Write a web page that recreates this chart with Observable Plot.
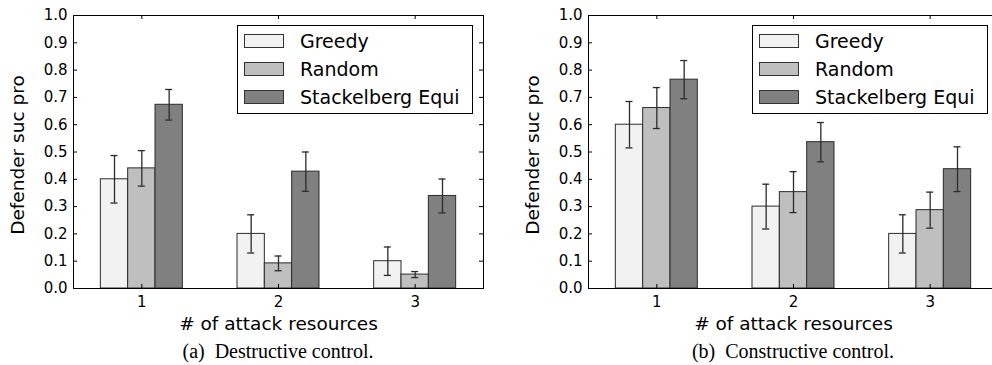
<!DOCTYPE html>
<html>
<head>
<meta charset="utf-8">
<script src="https://cdn.jsdelivr.net/npm/d3@7"></script>
<script src="https://cdn.jsdelivr.net/npm/@observablehq/plot@0.6"></script>
<style>
  html, body { margin: 0; padding: 0; background: #fff; }
  body { width: 992px; height: 365px; overflow: hidden; position: relative; font-family: "DejaVu Sans", sans-serif; }
  .panel { position: absolute; top: 0; width: 496px; height: 365px; }
  .panel svg { display: block; position: absolute; left: 0; top: 0; }
  .caption { position: absolute; left: 73px; width: 410px; top: 339px; text-align: center;
             font: 20px/24px "Liberation Serif", "Times New Roman", serif; color: #000; white-space: nowrap; }
  .legend { position: absolute; left: 237px; top: 25px; width: 236px; height: 89px; box-sizing: border-box;
            border: 1px solid #000; background: #fff; }
  .legend .sw { position: absolute; left: 6px; width: 40px; height: 14px; box-sizing: border-box; border: 1px solid #333; }
  .legend .lb { position: absolute; left: 62px; font: 19px/22px "DejaVu Sans", sans-serif; color: #000; white-space: nowrap; }
</style>
</head>
<body>
<script>
// ---- data ----
const categories = [1, 2, 3];
const series = ["Greedy", "Random", "Stackelberg Equi"];
const seriesColors = ["#f2f2f2", "#bfbfbf", "#808080"];
const yTicks = [0, 0.1, 0.2, 0.3, 0.4, 0.5, 0.6, 0.7, 0.8, 0.9, 1.0];
const xLabel = "# of attack resources";
const yLabel = "Defender suc pro";

// (a) Destructive control
const greedyA = [0.40, 0.20, 0.10];
const randomA = [0.44, 0.092, 0.051];
const stackA  = [0.673, 0.428, 0.339];
const greedyErrA = [0.087, 0.070, 0.052];
const randomErrA = [0.065, 0.027, 0.011];
const stackErrA  = [0.056, 0.072, 0.062];

// (b) Constructive control
const greedyB = [0.60, 0.30, 0.20];
const randomB = [0.661, 0.353, 0.287];
const stackB  = [0.765, 0.536, 0.437];
const greedyErrB = [0.085, 0.082, 0.070];
const randomErrB = [0.075, 0.075, 0.066];
const stackErrB  = [0.070, 0.072, 0.082];

const captionA = ["(a)", "Destructive control."];
const captionB = ["(b)", "Constructive control."];

// ---- drawing ----
const W = 496, H = 340, mL = 73, mR = 13, mT = 15, mB = 52;
const fw = W - mL - mR, fh = H - mT - mB;
const offsets = [-0.2, 0, 0.2];
const barW = 0.2;
const capHalf = 3.5 / (fw / 3); // 3.5px in data units

function makePanel(values, errs, left, caption) {
  const rows = [];
  categories.forEach((c, ci) => series.forEach((s, si) => {
    rows.push({c, s, x: c + offsets[si], v: values[si][ci], e: errs[si][ci]});
  }));
  const chart = Plot.plot({
    width: W, height: H, marginLeft: mL, marginRight: mR, marginTop: mT, marginBottom: mB,
    style: {fontFamily: "DejaVu Sans, sans-serif", fontSize: "15px", color: "#000", background: "#fff", overflow: "visible"},
    x: {domain: [0.5, 3.5], axis: null},
    y: {domain: [0, 1], axis: null},
    color: {domain: series, range: seriesColors},
    marks: [
      Plot.rect(rows, {x1: d => d.x - barW / 2, x2: d => d.x + barW / 2, y1: 0, y2: "v", fill: "s", stroke: "#2b2b2b", strokeWidth: 1}),
      Plot.ruleX(rows, {x: "x", y1: d => d.v - d.e, y2: d => d.v + d.e, stroke: "#2b2b2b", strokeWidth: 1.3}),
      Plot.ruleY(rows, {y: d => d.v - d.e, x1: d => d.x - capHalf, x2: d => d.x + capHalf, stroke: "#2b2b2b", strokeWidth: 1.3}),
      Plot.ruleY(rows, {y: d => d.v + d.e, x1: d => d.x - capHalf, x2: d => d.x + capHalf, stroke: "#2b2b2b", strokeWidth: 1.3}),
      Plot.axisY({ticks: yTicks, tickSize: 0, tickPadding: 6, tickFormat: d3.format(".1f"), label: null}),
      Plot.axisX({ticks: categories, tickSize: 0, tickPadding: 8, tickFormat: d => String(d), label: null}),
      Plot.ruleY(yTicks, {y: d => d, insetRight: fw - 4, stroke: "#000"}),
      Plot.ruleY(yTicks, {y: d => d, insetLeft: fw - 4, stroke: "#000"}),
      Plot.ruleX(categories, {x: d => d, insetTop: fh - 4, stroke: "#000"}),
      Plot.ruleX(categories, {x: d => d, insetBottom: fh - 4, stroke: "#000"}),
      Plot.frame({stroke: "#000", strokeWidth: 1}),
      Plot.text([yLabel], {text: d => d, frameAnchor: "left", dx: -55, dy: 3, rotate: -90, fontSize: 18.5, textAnchor: "middle", lineAnchor: "middle", fill: "#000"}),
      Plot.text([xLabel], {text: d => d, frameAnchor: "bottom", dy: 36, fontSize: 18.5, textAnchor: "middle", lineAnchor: "middle", fill: "#000"})
    ]
  });
  const div = document.createElement("div");
  div.className = "panel";
  div.style.left = left + "px";
  div.appendChild(chart);

  const leg = document.createElement("div");
  leg.className = "legend";
  series.forEach((s, i) => {
    const sw = document.createElement("div");
    sw.className = "sw";
    sw.style.top = (8 + 28 * i) + "px";
    sw.style.background = seriesColors[i];
    const lb = document.createElement("div");
    lb.className = "lb";
    lb.style.top = (4 + 28 * i) + "px";
    lb.textContent = s;
    leg.appendChild(sw);
    leg.appendChild(lb);
  });
  div.appendChild(leg);

  const cap = document.createElement("div");
  cap.className = "caption";
  cap.innerHTML = caption[0] + "&ensp;" + caption[1];
  div.appendChild(cap);
  document.body.appendChild(div);
}

makePanel([greedyA, randomA, stackA], [greedyErrA, randomErrA, stackErrA], 0, captionA);
makePanel([greedyB, randomB, stackB], [greedyErrB, randomErrB, stackErrB], 515, captionB);
</script>
</body>
</html>
